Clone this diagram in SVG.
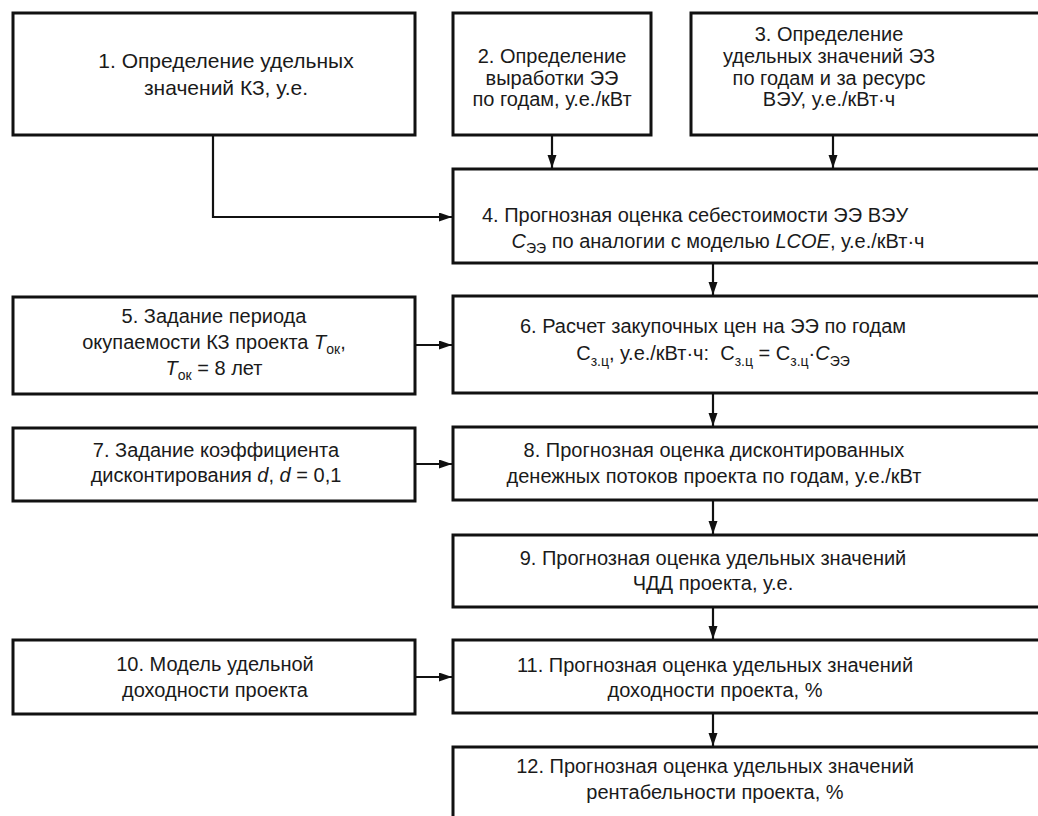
<svg xmlns="http://www.w3.org/2000/svg" width="1038" height="816" viewBox="0 0 1038 816">
<defs>
<style>
.box{fill:#fff;stroke:#111;stroke-width:3}
.t{font-family:"Liberation Sans",Arial,sans-serif;font-size:20px;fill:#1a1a1a;text-anchor:middle}
.b{font-size:21px}
.s{font-size:14px}
.i{font-style:italic}
.c{fill:none;stroke:#111;stroke-width:2.2}
</style>
<marker id="ah" markerUnits="userSpaceOnUse" markerWidth="14" markerHeight="10" refX="13" refY="4.5" orient="auto">
<path d="M0,0 L13,4.5 L0,9 z" fill="#111"/>
</marker>
</defs>
<rect width="1038" height="816" fill="#fff"/>
<g id="connectors">
<path class="c" d="M213,135 V217 H452" marker-end="url(#ah)"/>
<path class="c" d="M552,135 V168" marker-end="url(#ah)"/>
<path class="c" d="M833,135 V168" marker-end="url(#ah)"/>
<path class="c" d="M713,263 V295" marker-end="url(#ah)"/>
<path class="c" d="M415,345 H452" marker-end="url(#ah)"/>
<path class="c" d="M713,393 V426" marker-end="url(#ah)"/>
<path class="c" d="M415,464 H452" marker-end="url(#ah)"/>
<path class="c" d="M713,500 V534" marker-end="url(#ah)"/>
<path class="c" d="M713,607 V639" marker-end="url(#ah)"/>
<path class="c" d="M415,677 H452" marker-end="url(#ah)"/>
<path class="c" d="M713,713 V746" marker-end="url(#ah)"/>
</g>
<g id="n1">
<rect class="box" x="13" y="13" width="402" height="122"/>
<text class="t b" x="226" y="68">1. Определение удельных</text>
<text class="t b" x="226" y="95">значений КЗ, у.е.</text>
</g>
<g id="n2">
<rect class="box" x="453" y="13" width="198" height="122"/>
<text class="t" x="552" y="63">2. Определение</text>
<text class="t" x="552" y="85">выработки ЭЭ</text>
<text class="t" x="552" y="106">по годам, у.е./кВт</text>
</g>
<g id="n3">
<rect class="box" x="691" y="13" width="360" height="122"/>
<text class="t" x="829" y="41">3. Определение</text>
<text class="t" x="829" y="63">удельных значений ЭЗ</text>
<text class="t" x="829" y="85">по годам и за ресурс</text>
<text class="t" x="829" y="106">ВЭУ, у.е./кВт·ч</text>
</g>
<g id="n4">
<rect class="box" x="453" y="169" width="598" height="94"/>
<text class="t" x="695" y="222">4. Прогнозная оценка себестоимости ЭЭ ВЭУ</text>
<text class="t" x="718" y="248"><tspan class="i">C</tspan><tspan class="s" dy="5">ЭЭ</tspan><tspan dy="-5"> по аналогии с моделью </tspan><tspan class="i">LCOE</tspan>, у.е./кВт·ч</text>
</g>
<g id="n5">
<rect class="box" x="13" y="297" width="402" height="97"/>
<text class="t" x="214" y="323">5. Задание периода</text>
<text class="t" x="214" y="349">окупаемости КЗ проекта <tspan class="i">T</tspan><tspan class="s" dy="5">ок</tspan><tspan dy="-5">,</tspan></text>
<text class="t" x="214" y="375"><tspan class="i">T</tspan><tspan class="s" dy="5">ок</tspan><tspan dy="-5"> = 8 лет</tspan></text>
</g>
<g id="n6">
<rect class="box" x="453" y="296" width="598" height="97"/>
<text class="t" x="713" y="333">6. Расчет закупочных цен на ЭЭ по годам</text>
<text class="t" x="713" y="360">С<tspan class="s" dy="6">з.ц</tspan><tspan dy="-6">, у.е./кВт·ч:&#160; С</tspan><tspan class="s" dy="6">з.ц</tspan><tspan dy="-6"> = С</tspan><tspan class="s" dy="6">з.ц</tspan><tspan dy="-6">·</tspan><tspan class="i">C</tspan><tspan class="s" dy="6">ЭЭ</tspan></text>
</g>
<g id="n7">
<rect class="box" x="13" y="428" width="402" height="73"/>
<text class="t" x="216" y="457">7. Задание коэффициента</text>
<text class="t" x="216" y="482">дисконтирования <tspan class="i">d</tspan>, <tspan class="i">d</tspan> = 0,1</text>
</g>
<g id="n8">
<rect class="box" x="453" y="427" width="598" height="73"/>
<text class="t" x="714" y="457">8. Прогнозная оценка дисконтированных</text>
<text class="t" x="714" y="483">денежных потоков проекта по годам, у.е./кВт</text>
</g>
<g id="n9">
<rect class="box" x="453" y="535" width="598" height="72"/>
<text class="t" x="713" y="565">9. Прогнозная оценка удельных значений</text>
<text class="t" x="713" y="590">ЧДД проекта, у.е.</text>
</g>
<g id="n10">
<rect class="box" x="13" y="640" width="402" height="74"/>
<text class="t" x="215" y="671">10. Модель удельной</text>
<text class="t" x="215" y="697">доходности проекта</text>
</g>
<g id="n11">
<rect class="box" x="453" y="640" width="598" height="73"/>
<text class="t" x="715" y="672">11. Прогнозная оценка удельных значений</text>
<text class="t" x="715" y="697">доходности проекта, %</text>
</g>
<g id="n12">
<rect class="box" x="453" y="747" width="598" height="85"/>
<text class="t" x="715" y="773">12. Прогнозная оценка удельных значений</text>
<text class="t" x="715" y="799">рентабельности проекта, %</text>
</g>
</svg>
